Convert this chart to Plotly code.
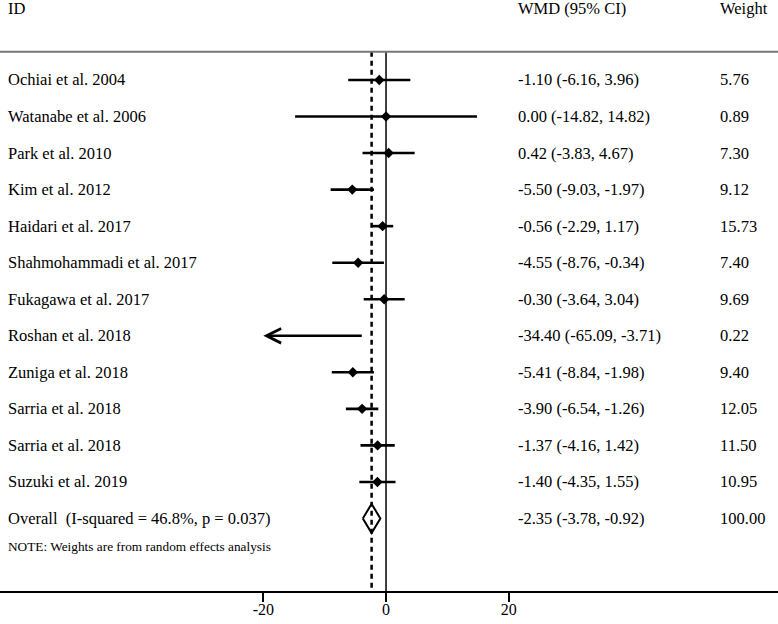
import plotly.graph_objects as go

studies = ["Ochiai et al. 2004", "Watanabe et al. 2006", "Park et al. 2010", "Kim et al. 2012",
           "Haidari et al. 2017", "Shahmohammadi et al. 2017", "Fukagawa et al. 2017",
           "Roshan et al. 2018", "Zuniga et al. 2018", "Sarria et al. 2018", "Sarria et al. 2018",
           "Suzuki et al. 2019"]
wmd = [-1.10, 0.00, 0.42, -5.50, -0.56, -4.55, -0.30, -34.40, -5.41, -3.90, -1.37, -1.40]
lower = [-6.16, -14.82, -3.83, -9.03, -2.29, -8.76, -3.64, -65.09, -8.84, -6.54, -4.16, -4.35]
upper = [3.96, 14.82, 4.67, -1.97, 1.17, -0.34, 3.04, -3.71, -1.98, -1.26, 1.42, 1.55]
weights = [5.76, 0.89, 7.30, 9.12, 15.73, 7.40, 9.69, 0.22, 9.40, 12.05, 11.50, 10.95]

overall_label = "Overall\u00a0 (I-squared = 46.8%, p = 0.037)"
overall_est, overall_lo, overall_hi, overall_w = -2.35, -3.78, -0.92, 100.00
note = "NOTE: Weights are from random effects analysis"
tick_vals = [-20, 0, 20]
tick_text = ["-20", "0", "20"]

FONT = "Liberation Serif"
xmin_clip = min(tick_vals)

n = len(studies)
rows = list(range(n))
overall_row = n

fig = go.Figure()

# CI segments (clipped ones drawn as arrows)
seg_x, seg_y = [], []
for i in rows:
    if lower[i] < xmin_clip:
        fig.add_annotation(x=xmin_clip, y=i, ax=upper[i], ay=i, xref="x", yref="y",
                           axref="x", ayref="y", showarrow=True, arrowhead=5,
                           arrowsize=1.2, arrowwidth=2.4, arrowcolor="black", text="")
        continue
    seg_x += [lower[i], upper[i], None]
    seg_y += [i, i, None]
fig.add_trace(go.Scatter(x=seg_x, y=seg_y, mode="lines",
                         line=dict(color="black", width=2.6), hoverinfo="skip"))

# point estimates (except arrow-drawn)
px = [wmd[i] for i in rows if lower[i] >= xmin_clip]
py = [i for i in rows if lower[i] >= xmin_clip]
fig.add_trace(go.Scatter(x=px, y=py, mode="markers",
                         marker=dict(symbol="diamond", size=8, color="black")))

# overall diamond
h = 0.4
fig.add_trace(go.Scatter(x=[overall_lo, overall_est, overall_hi, overall_est, overall_lo],
                         y=[overall_row, overall_row - h, overall_row, overall_row + h, overall_row],
                         mode="lines", line=dict(color="black", width=2), hoverinfo="skip"))

top_rule = -0.77
axis_row = 13.985
# zero line
fig.add_shape(type="line", x0=0, x1=0, y0=top_rule, y1=axis_row, xref="x", yref="y",
              line=dict(color="black", width=1.5))
# overall dashed line
fig.add_shape(type="line", x0=overall_est, x1=overall_est, y0=top_rule, y1=axis_row,
              xref="x", yref="y", line=dict(color="black", width=2.5, dash="5px,4px"))
# top rule
fig.add_shape(type="line", x0=0, x1=1, y0=top_rule, y1=top_rule, xref="paper", yref="y",
              line=dict(color="#777777", width=2))

# text columns
xl, xc, xw = 6 / 778, 516 / 778, 718 / 778
fs = 16.5
def txt(x, y, s, size=fs):
    fig.add_annotation(x=x, y=y, xref="paper", yref="y", text=s, showarrow=False,
                       xanchor="left", yanchor="middle", font=dict(family=FONT, size=size, color="black"))

header_row = -1.97
txt(xl, header_row, "ID")
txt(xc, header_row, "WMD (95% CI)")
txt(xw, header_row, "Weight")
for i in rows:
    txt(xl, i, studies[i])
    txt(xc, i, f"{wmd[i]:.2f} ({lower[i]:.2f}, {upper[i]:.2f})")
    txt(xw, i, f"{weights[i]:.2f}")
txt(xl, overall_row, overall_label)
txt(xc, overall_row, f"{overall_est:.2f} ({overall_lo:.2f}, {overall_hi:.2f})")
txt(xw, overall_row, f"{overall_w:.2f}")
txt(xl, overall_row + 0.78, note, size=13.3)

fig.update_layout(
    width=778, height=624, showlegend=False,
    margin=dict(l=0, r=0, t=0, b=33),
    paper_bgcolor="white", plot_bgcolor="white",
    xaxis=dict(range=[-62.92, 63.89], tickvals=tick_vals, ticktext=tick_text,
               showgrid=False, zeroline=False, showline=True, linecolor="black", linewidth=2,
               ticks="outside", ticklen=9, tickwidth=2, tickcolor="black",
               ticklabelstandoff=-6,
               tickfont=dict(family=FONT, size=16, color="black")),
    yaxis=dict(range=[axis_row, -2.189], showgrid=False, zeroline=False, showticklabels=False,
               visible=False),
)

fig.write_html("out.html", config={"displayModeBar": False},
               post_script="document.body.style.margin='0';document.body.style.overflow='hidden';")
